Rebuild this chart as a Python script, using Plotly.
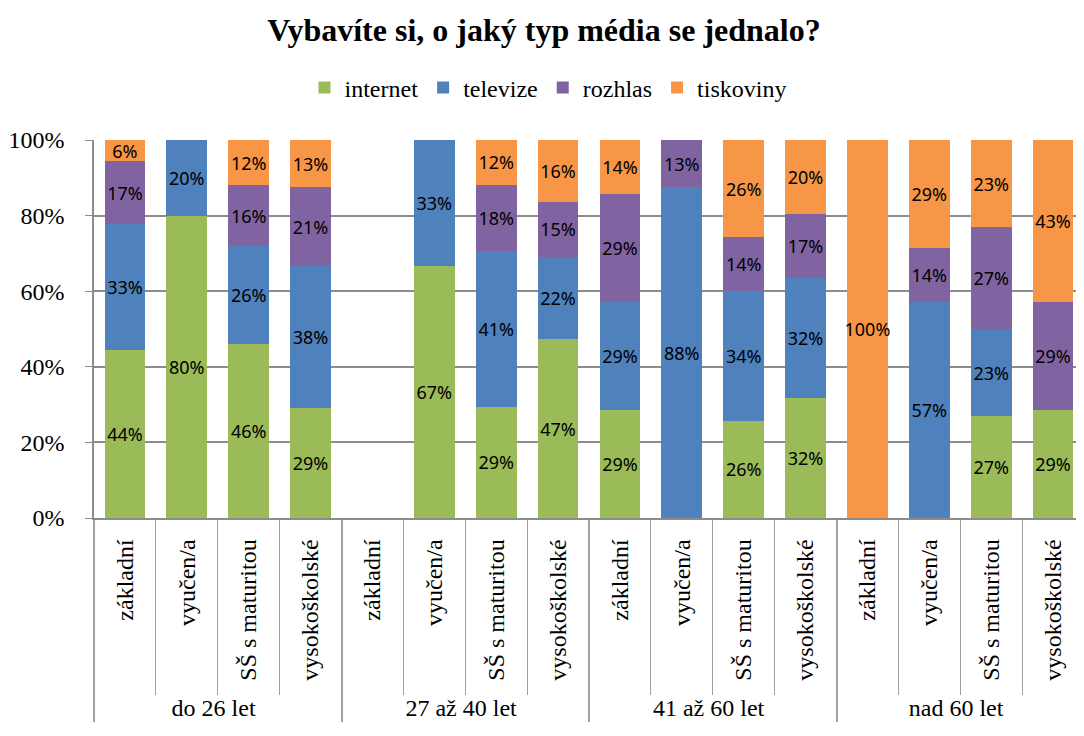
import plotly.graph_objects as go

groups = ["do 26 let", "27 až 40 let", "41 až 60 let", "nad 60 let"]
education = ["základní", "vyučen/a", "SŠ s maturitou", "vysokoškolské"]

# percentages per bar, order: groups x education
internet  = [44.4, 80.0, 46.0, 29.2,   0.0, 66.7, 29.4, 47.3,  28.6,  0.0, 25.7, 31.7,   0.0,  0.0, 26.9, 28.6]
televize  = [33.3, 20.0, 26.0, 37.5,   0.0, 33.3, 41.2, 21.8,  28.6, 87.5, 34.3, 31.7,   0.0, 57.1, 23.1,  0.0]
rozhlas   = [16.7,  0.0, 16.0, 20.8,   0.0,  0.0, 17.6, 14.5,  28.6, 12.5, 14.3, 17.1,   0.0, 14.3, 26.9, 28.6]
tiskoviny = [ 5.6,  0.0, 12.0, 12.5,   0.0,  0.0, 11.8, 16.4,  14.3,  0.0, 25.7, 19.5, 100.0, 28.6, 23.1, 42.9]

y_ticks = [0, 20, 40, 60, 80, 100]
y_tick_labels = [f"{t}%" for t in y_ticks]

series = [("internet", internet, "#9BBB59"),
          ("televize", televize, "#4F81BD"),
          ("rozhlas", rozhlas, "#8064A2"),
          ("tiskoviny", tiskoviny, "#F79646")]

x_outer = [g for g in groups for _ in education]
x_inner = [e for _ in groups for e in education]

SERIF = "Liberation Serif, Times New Roman, serif"

fig = go.Figure()
for name, vals, col in series:
    txt = [f"{int(v + 0.5)}%" if v > 0 else "" for v in vals]
    fig.add_trace(go.Bar(
        x=[x_outer, x_inner], y=vals, name=name,
        marker=dict(color=col, line=dict(width=0)),
        text=txt, textposition="inside", insidetextanchor="middle",
        textangle=0, textfont=dict(family="Noto Sans", size=18, color="black"),
        hoverinfo="skip",
    ))

# page body has an 8px margin; compensate so the chart lands where the reference has it
OFF = 8
W, H = 1084 - OFF, 736 - OFF
L, T, B = 94 - OFF, 140 - OFF, 218
R = 0
pw = W - L - R
ph = H - T - B

grid = "#8C8C8C"
fig.update_layout(
    barmode="stack", bargap=0.34,
    width=W, height=H,
    margin=dict(l=L, r=R, t=T, b=B, autoexpand=False),
    paper_bgcolor="white", plot_bgcolor="white",
    font=dict(family=SERIF, color="black"),
    title=dict(text="<b>Vybavíte si, o jaký typ média se jednalo?</b>",
               x=(544 - OFF) / W, xanchor="center", y=1 - (30 - OFF) / H, yanchor="middle",
               font=dict(family=SERIF, size=32, color="black")),
    legend=dict(orientation="h", x=(548 - OFF - L) / pw, xanchor="center",
                y=1 + (140 - 88) / ph, yanchor="middle",
                font=dict(family=SERIF, size=24, color="black"),
                traceorder="normal", itemwidth=30),
    uniformtext=dict(minsize=18, mode="show"),
    showlegend=True,
)
fig.update_yaxes(range=[0, 100], tickmode="array", tickvals=y_ticks, ticktext=y_tick_labels,
                 showgrid=True, gridcolor=grid, gridwidth=1.5,
                 showline=True, linecolor=grid, linewidth=1.5,
                 ticks="outside", ticklen=7, tickcolor=grid, ticklabelstandoff=16,
                 tickfont=dict(family=SERIF, size=24, color="black"),
                 zeroline=False, automargin=False)
fig.update_xaxes(type="multicategory", tickangle=-90,
                 showline=True, linecolor=grid, linewidth=1.5,
                 ticks="outside", tickson="boundaries", ticklen=175, tickcolor="#A0A0A0",
                 showdividers=True, dividercolor="#A0A0A0", dividerwidth=1.5,
                 ticklabelstandoff=10,
                 tickfont=dict(family=SERIF, size=24, color="black"),
                 showgrid=False, automargin=False)

fig.write_html("out.html")
